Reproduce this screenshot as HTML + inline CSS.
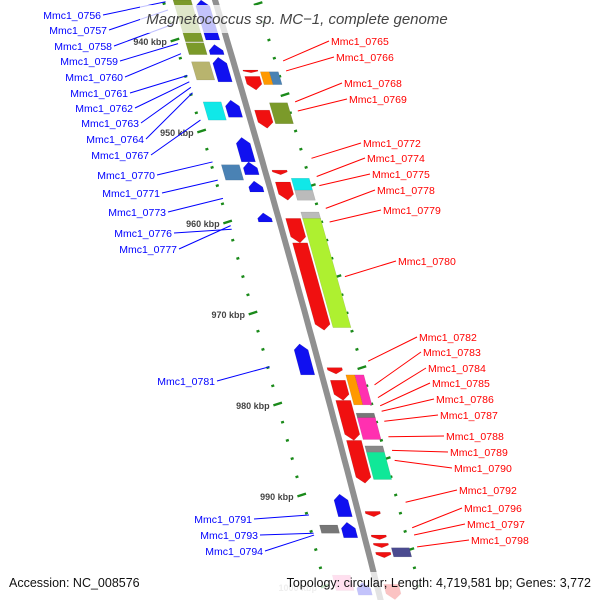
<!DOCTYPE html>
<html><head><meta charset="utf-8"><style>
body{margin:0;background:#fff}
svg{display:block;font-family:"Liberation Sans",sans-serif}
</style></head><body>
<svg id="c" width="600" height="600" viewBox="0 0 600 600">
<g id="grid"></g>
<path id="bb" fill="none" stroke="#909090" stroke-width="6"/>
<g id="genes"></g>
<g id="leaders"></g>
<rect x="140" y="5" width="316" height="28" fill="#fff" fill-opacity="0.75"/>
<text x="297" y="24" text-anchor="middle" font-style="italic" font-size="15" fill="#444">Magnetococcus sp. MC−1, complete genome</text>
<rect x="0" y="572" width="600" height="28" fill="#fff" fill-opacity="0.75"/>
<text x="9" y="587" font-size="12.5" fill="#111">Accession: NC_008576</text>
<text x="591" y="587" text-anchor="end" font-size="12.5" fill="#111">Topology: circular; Length: 4,719,581 bp; Genes: 3,772</text>
</svg>
<script>
const tickKb=[940,950,960,970,980,990,1000];
const tickLabels=["940 kbp","950 kbp","960 kbp","970 kbp","980 kbp","990 kbp","1000 kbp"];
const geneStart=[935.6,940.3,942.4,946.8,953.7,993.3, 935.6,940.5,941.9,946.6,950.7,953.4,955.5,959.0,973.4,989.9,993.0,999.6,
 943.3,944.0,947.7,954.3,955.6,959.6,962.3,976.0,977.4,979.6,984.0,991.8,994.4,995.3,996.3,999.8,
 943.5,943.5,946.9,955.2,956.5,958.9,959.6,976.8,976.8,981.0,981.5,984.6,985.3,995.8,998.8];
const geneEnd=[940.2,941.6,944.4,948.8,955.4,994.2, 940.0,941.6,944.6,948.5,953.4,954.8,956.7,960.0,976.8,992.4,994.7,1001.0,
 943.6,945.5,949.7,954.8,957.6,962.3,971.9,976.7,979.6,984.0,988.7,992.4,994.9,995.8,996.9,1001.5,
 944.9,944.9,949.2,956.5,957.6,959.7,971.6,980.1,980.1,981.6,983.9,985.3,988.3,996.8,1000.5];
const geneTrack=[-2,-2,-2,-2,-2,-2, -1,-1,-1,-1,-1,-1,-1,-1,-1,-1,-1,-1,
 1,1,1,1,1,1,1,1,1,1,1,1,1,1,1,1,
 2.1,2.2,2,2,2,2,2,2.1,2.2,2,2,2,2,2,-2];
const geneColor=["#7b9a2a","#7b9a2a","#b8b46e","#10e8e8","#4a82b4","#777",
 "#1010f0","#1010f0","#1010f0","#1010f0","#1010f0","#1010f0","#1010f0","#1010f0","#1010f0","#1010f0","#1010f0","#1010f0",
 "#f01010","#f01010","#f01010","#f01010","#f01010","#f01010","#f01010","#f01010","#f01010","#f01010","#f01010","#f01010","#f01010","#f01010","#f01010","#f01010",
 "#ff9900","#4a82b4","#7b9a2a","#10e8e8","#bbbbbb","#bbbbbb","#aef030","#ff9900","#ff30b0","#777","#ff30b0","#888","#10e898","#4b4b90","#ff80c0"];
const geneStrand=[0,0,0,0,0,0,-1,-1,-1,-1,-1,-1,-1,-1,-1,-1,-1,-1,1,1,1,1,1,1,1,1,1,1,1,1,1,1,1,1,0,0,0,0,0,0,0,0,0,0,0,0,0,0,0];
const rightNames=["Mmc1_0765","Mmc1_0766","Mmc1_0768","Mmc1_0769","Mmc1_0772","Mmc1_0774","Mmc1_0775","Mmc1_0778","Mmc1_0779","Mmc1_0780","Mmc1_0782","Mmc1_0783","Mmc1_0784","Mmc1_0785","Mmc1_0786","Mmc1_0787","Mmc1_0788","Mmc1_0789","Mmc1_0790","Mmc1_0792","Mmc1_0796","Mmc1_0797","Mmc1_0798"];
const rightLabelY=[41,57,83,99,143,158,174,190,210,261,337,352,368,383,399,415,436,452,468,490,508,524,540];
const rightLabelX=[331,336,344,349,363,367,372,377,383,398,419,423,428,432,436,440,446,450,454,459,464,467,471];
const rightTargetKb=[942.3,943.4,946.8,947.8,953.0,955.0,956.0,958.5,960.0,966.0,975.3,977.9,979.3,980.2,980.8,981.9,983.6,985.1,986.2,990.8,993.6,994.4,995.7];
const leftNames=["Mmc1_0756","Mmc1_0757","Mmc1_0758","Mmc1_0759","Mmc1_0760","Mmc1_0761","Mmc1_0762","Mmc1_0763","Mmc1_0764","Mmc1_0767","Mmc1_0770","Mmc1_0771","Mmc1_0773","Mmc1_0776","Mmc1_0777","Mmc1_0781","Mmc1_0791","Mmc1_0793","Mmc1_0794"];
const leftLabelY=[15,30,46,61,77,93,108,123,139,155,175,193,212,233,249,381,519,535,551];
const leftLabelX=[101,107,112,118,123,128,133,139,144,149,155,160,166,172,177,215,252,258,263];
const leftTargetKb=[935.8,936.7,938.3,940.4,941.5,943.9,944.6,945.2,945.8,948.8,953.4,955.4,957.4,960.8,960.4,975.9,992.2,994.2,994.4];

const NS="http://www.w3.org/2000/svg";
function pos(kb){return 40+(kb-940)*9.1;}
function bbx(y){return 215+0.30*y-0.00004*y*y;}
function pt(kb,o){const y=pos(kb);return [bbx(y)+o, y];}
function mk(tag,parent){const e=document.createElementNS(NS,tag);document.getElementById(parent).appendChild(e);return e;}
let d="";for(let y=-10;y<=610;y+=10){d+=(y===-10?"M":"L")+bbx(y).toFixed(1)+","+y;}
document.getElementById("bb").setAttribute("d",d);
for(let kb=934;kb<=1002;kb+=2){
  [-52,42].forEach(o=>{
    const p=pt(kb,o);const r=mk("rect","grid");
    
    
    const major=(o<0&&kb%10===0)||(o>0&&kb%10===6);
    const w=major?9:3;
    r.setAttribute("x",p[0]-w/2);r.setAttribute("y",p[1]-1.2);r.setAttribute("width",w);r.setAttribute("height",2.4);
    r.setAttribute("fill","#1a8a1a");
    r.setAttribute("transform","rotate(-18 "+p[0]+" "+p[1]+")");
  });
}
tickKb.forEach((kb,i)=>{
  const p=pt(kb,-60);const t=mk("text","grid");
  
  
  t.setAttribute("x",p[0]);t.setAttribute("y",p[1]+5);t.setAttribute("text-anchor","end");
  t.setAttribute("font-size","9");t.setAttribute("font-weight","bold");t.setAttribute("fill",kb===1000?"#bbb":"#444");
  t.textContent=tickLabels[i];
});
const tracks={"-2":[-42,-24],"-1":[-21,-7],"1":[7,22],"2":[24,42],"2.1":[24,33],"2.2":[33,42]};
for(let i=0;i<geneStart.length;i++){
  const tr=tracks[String(geneTrack[i])];const a=geneStart[i],b=geneEnd[i],s=geneStrand[i];
  const len=pos(b)-pos(a);const tip=Math.min(6,len*0.6)/9.1;const mid=(tr[0]+tr[1])/2;let pts;
  if(s===1){pts=[pt(a,tr[0]),pt(a,tr[1]),pt(b-tip,tr[1]),pt(b,mid),pt(b-tip,tr[0])];}
  else if(s===-1){pts=[pt(b,tr[0]),pt(b,tr[1]),pt(a+tip,tr[1]),pt(a,mid),pt(a+tip,tr[0])];}
  else{pts=[pt(a,tr[0]),pt(a,tr[1]),pt(b,tr[1]),pt(b,tr[0])];}
  const g=mk("polygon","genes");
  
  
  g.setAttribute("points",pts.map(p=>p[0].toFixed(1)+","+p[1].toFixed(1)).join(" "));
  g.setAttribute("fill",geneColor[i]);g.setAttribute("stroke","rgba(0,0,0,0.15)");g.setAttribute("stroke-width","0.5");
}
rightNames.forEach((n,i)=>{
  const p=pt(rightTargetKb[i],50);const l=mk("line","leaders");
  
  
  l.setAttribute("x1",rightLabelX[i]-2);l.setAttribute("y1",rightLabelY[i]);l.setAttribute("x2",p[0]);l.setAttribute("y2",p[1]);
  l.setAttribute("stroke","#f00");l.setAttribute("stroke-width","1");
  const t=mk("text","leaders");
  
  
  t.setAttribute("x",rightLabelX[i]);t.setAttribute("y",rightLabelY[i]+4);t.setAttribute("font-size","10.5");t.setAttribute("fill","#f00");
  t.textContent=n;
});
leftNames.forEach((n,i)=>{
  const p=pt(leftTargetKb[i],-50);const l=mk("line","leaders");
  
  
  l.setAttribute("x1",leftLabelX[i]+2);l.setAttribute("y1",leftLabelY[i]);l.setAttribute("x2",p[0]);l.setAttribute("y2",p[1]);
  l.setAttribute("stroke","#00f");l.setAttribute("stroke-width","1");
  const t=mk("text","leaders");
  
  
  t.setAttribute("x",leftLabelX[i]);t.setAttribute("y",leftLabelY[i]+4);t.setAttribute("text-anchor","end");t.setAttribute("font-size","10.5");t.setAttribute("fill","#00f");
  t.textContent=n;
});
</script>
</body></html>
